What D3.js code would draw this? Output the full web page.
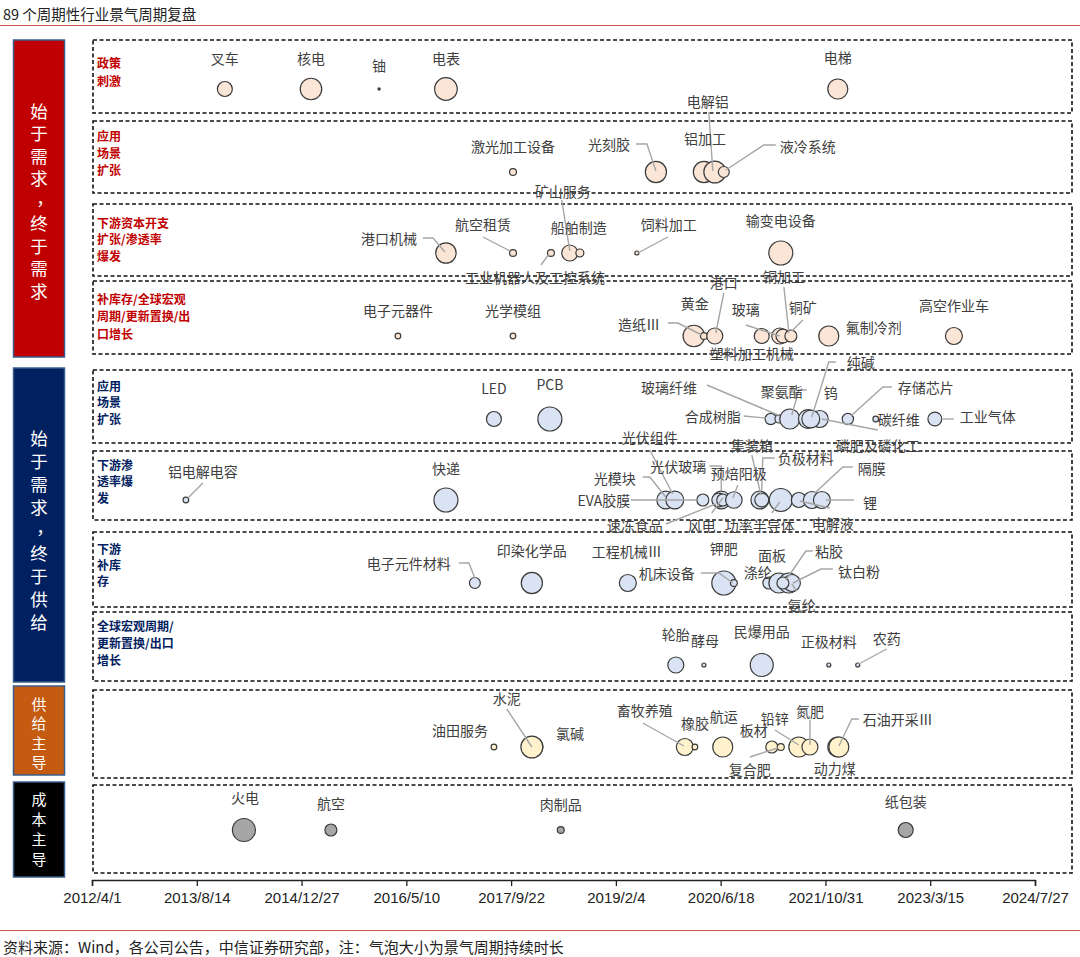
<!DOCTYPE html>
<html>
<head>
<meta charset="utf-8">
<script src="https://cdn.jsdelivr.net/npm/d3@7"></script>
<style>
  body { margin: 0; background: #fff; }
</style>
</head>
<body>
<div id="chart"></div>
<script>
// 每个气泡：[行业, 景气周期起点, 持续时长(月)]
const policyStimulus = [["叉车","2013-12-26",14],["核电","2015-02-10",29],["铀","2016-01-01",0.3],["电表","2016-11-15",32],["电梯","2021-12-29",25]];
const demandScenario = [["激光加工设备","2017-10-01",3],["光刻胶","2019-08-14",28],["铝加工","2020-03-30",28],["电解铝","2020-05-21",30],["液冷系统","2020-07-03",7.5]];
const capexPenetration = [["港口机械","2016-11-15",26],["航空租赁","2017-10-01",3],["工业机器人及工控系统","2018-03-31",3],["矿山服务","2018-06-29",16],["船舶制造","2018-08-16",4],["饲料加工","2019-05-15",1],["输变电设备","2021-04-01",36]];
const restockMacro = [["电子元器件","2016-03-31",2],["光学模组","2017-10-01",2],["黄金","2020-02-11",29],["造纸Ⅲ","2020-03-30",3],["港口","2020-05-21",16],["塑料加工机械","2020-12-31",14],["玻璃","2021-03-27",16],["铜加工","2021-04-11",12],["铜矿","2021-05-19",9],["氟制冷剂","2021-11-16",25],["高空作业车","2023-07-06",18]];
const supplyScenario = [["LED","2017-07-02",14],["PCB","2018-03-26",36],["合成树脂","2021-02-12",8],["玻璃纤维","2021-03-23",4],["聚氨酯","2021-05-14",25],["磷肥及磷化工","2021-10-04",18],["钨","2021-08-08",22],["纯碱","2021-08-22",20],["存储芯片","2022-02-15",8],["碳纤维","2022-06-28",2],["工业气体","2023-04-06",12]];
const penetration = [["铝电解电容","2013-06-23",2],["快递","2016-11-15",36],["光模块","2019-09-30",20],["光伏组件","2019-11-12",20],["EVA胶膜","2020-03-25",9],["光伏玻璃","2020-06-21",20],["速冻食品","2020-06-09",12],["风电","2020-06-28",9],["预焙阳极","2020-08-20",17],["集装箱","2020-12-22",20],["负极材料","2020-12-31",12],["功率半导体","2021-04-01",33],["电解液","2021-06-26",14],["隔膜","2021-08-27",18],["锂","2021-10-14",18]];
const downstreamRestock = [["电子元件材料","2017-04-02",7.5],["印染化学品","2017-12-30",28],["工程机械Ⅲ","2019-04-02",18],["钾肥","2020-07-03",36],["机床设备","2020-08-20",3],["涤纶","2021-02-03",9],["面板","2021-03-23",25],["氨纶","2021-05-09",25],["钛白粉","2021-05-24",18],["粘胶","2021-04-11",9]];
const globalMacro = [["轮胎","2019-11-17",16],["酵母","2020-03-30",1],["民爆用品","2020-12-31",33],["正极材料","2021-11-16",1],["农药","2022-04-03",1]];
const supplyLed = [["油田服务","2017-07-02",2],["氯碱","2018-01-04",25],["水泥","2017-12-30",30],["畜牧养殖","2019-12-30",18],["橡胶","2020-02-16",2],["航运","2020-06-28",25],["板材","2021-02-17",9],["复合肥","2021-04-01",3],["铅锌","2021-06-26",25],["氮肥","2021-08-18",16],["动力煤","2021-12-29",25],["石油开采Ⅲ","2022-01-03",25]];
const costLed = [["火电","2014-03-27",33],["航空","2015-05-16",9],["肉制品","2018-05-17",3],["纸包装","2022-11-18",14]];

const rowSeries = [policyStimulus, demandScenario, capexPenetration, restockMacro, supplyScenario, penetration, downstreamRestock, globalMacro, supplyLed, costLed];
const rowLabels = [
  ["政策","刺激"],
  ["应用","场景","扩张"],
  ["下游资本开支","扩张/渗透率","爆发"],
  ["补库存/全球宏观","周期/更新置换/出","口增长"],
  ["应用","场景","扩张"],
  ["下游渗","透率爆","发"],
  ["下游","补库","存"],
  ["全球宏观周期/","更新置换/出口","增长"],
  [], []
];
const groupNames = ["始于需求，终于需求", "始于需求，终于供给", "供给主导", "成本主导"];
const rowGroup = [0, 0, 0, 0, 1, 1, 1, 1, 2, 3];
const tickStart = "2012-04-01", tickEnd = "2024-07-27", tickStepDays = 500;

const titleText = "89 个周期性行业景气周期复盘";
const sourceText = "资料来源：Wind，各公司公告，中信证券研究部，注：气泡大小为景气周期持续时长";

// ---- layout ----
const W = 1080, H = 957;
const rowBands = [[40,113],[121,193],[204,276],[281,354],[370,443],[451,520],[532,607],[612,681],[690,778],[785,873]];
const rowCY = [89,172,253,336,419,500,583,665,747,830];
const rowLabelY = [[62,18],[135,17],[222,16.5],[298,17.5],[385,16.5],[464,16.5],[548,16],[625,17]];
const groupBoxes = [
  {y0: 40, y1: 357, fill: "#c00000", start: 110, step: 22.5, size: 17.5},
  {y0: 368, y1: 682, fill: "#002060", start: 437, step: 23, size: 17.5},
  {y0: 686, y1: 775, fill: "#c55a11", start: 703, step: 19.5, size: 15},
  {y0: 782, y1: 877, fill: "#000000", start: 798, step: 20, size: 15}
];
const groupFill = ["#fbe5d6", "#dae3f3", "#fff2cc", "#a6a6a6"];
const rowTextColor = ["#c00000", "#002060"];

// 标签偏移 [dx, dy, 引线点]
const labelLayout = {
  "叉车":[0,-31], "核电":[0,-31], "铀":[0,-24], "电表":[0,-31], "电梯":[0,-32],
  "激光加工设备":[0,-26], "光刻胶":[-47,-28,[[-20,-28],[-9,-28],[0,-1]]],
  "铝加工":[1,-34], "电解铝":[-7,-71,[[-6,-60],[-2,-1]]],
  "液冷系统":[84,-26,[[52,-27],[40,-27],[2,-2]]],
  "港口机械":[-57,-15,[[-23,-15],[-13,-15],[-1,-1]]],
  "航空租赁":[-30,-29,[[-30,-16],[-3,-2]]],
  "工业机器人及工控系统":[-16,24,[[-10,12],[-2,1]]],
  "矿山服务":[-7,-62,[[-8,-53],[0,-2]]],
  "船舶制造":[-1,-26],
  "饲料加工":[32,-29,[[31,-16],[1,0]]],
  "输变电设备":[0,-33],
  "电子元器件":[0,-26], "光学模组":[0,-26], "黄金":[1,-33],
  "造纸Ⅲ":[-65,-12,[[-36,-13],[-26,-13],[-2,-1]]],
  "港口":[9,-54,[[9,-43],[1,-3]]],
  "塑料加工机械":[-10,17],
  "玻璃":[-34,-27,[[-34,-11],[0,0]]],
  "铜加工":[1,-60,[[1,-49],[6,-3]]],
  "铜矿":[12,-29,[[12,-16],[1,-5]]],
  "氟制冷剂":[45,-9], "高空作业车":[0,-31],
  "LED":[0,-31], "PCB":[0,-35],
  "合成树脂":[-58,-3,[[-27,-3],[-5,-1]]],
  "玻璃纤维":[-110,-32,[[-72,-34],[-1,-4]]],
  "聚氨酯":[-8,-28,[[17,-29],[9,-29],[2,-4]]],
  "钨":[23,-27],
  "纯碱":[50,-57,[[25,-57],[18,-57],[1,-2]]],
  "磷肥及磷化工":[58,26,[[58,11],[2,0]]],
  "存储芯片":[78,-32,[[44,-32],[35,-32],[3,-3]]],
  "碳纤维":[23,0],
  "工业气体":[53,-3,[[8,0],[19,0]]],
  "铝电解电容":[17,-29,[[17,-17],[2,-2]]],
  "快递":[0,-32],
  "光模块":[-51,-22,[[-23,-23],[-16,-23],[0,-3]]],
  "光伏组件":[-25,-63,[[-25,-50],[-2,-6]]],
  "EVA胶膜":[-99,0,[[-72,0],[-6,0]]],
  "光伏玻璃":[-43,-34,[[-12,-34],[0,-34],[0,-9]]],
  "速冻食品":[-84,25,[[-53,24],[-3,4]]],
  "风电":[-21,25,[[-11,13],[0,-2]]],
  "预焙阳极":[5,-27,[[4,-15],[-1,-2]]],
  "集装箱":[-8,-55,[[-8,-45],[1,-5]]],
  "负极材料":[44,-42,[[13,-42],[1,-42],[0,-10]]],
  "功率半导体":[-21,25,[[-9,13],[-1,2]]],
  "电解液":[34,23,[[31,8],[1,1]]],
  "隔膜":[60,-32,[[41,-33],[31,-33],[3,-7]]],
  "锂":[48,2,[[32,0],[4,0]]],
  "电子元件材料":[-66,-20,[[-16,-20],[-6,-20],[0,-5]]],
  "印染化学品":[0,-33], "工程机械Ⅲ":[-1,-32], "钾肥":[0,-35],
  "机床设备":[-67,-10,[[-33,-10],[-15,-10],[-1,0]]],
  "涤纶":[-11,-11], "面板":[-7,-28],
  "粘胶":[46,-32,[[30,-32],[23,-32],[3,-3]]],
  "钛白粉":[67,-12,[[41,-14],[29,-14],[1,0]]],
  "氨纶":[13,22,[[8,8],[3,1]]],
  "轮胎":[0,-31], "酵母":[1,-25], "民爆用品":[0,-34], "正极材料":[0,-24],
  "农药":[29,-27,[[29,-16],[1,-1]]],
  "油田服务":[-34,-17],
  "水泥":[-25,-49,[[-25,-38],[0,0]]],
  "氯碱":[37,-14],
  "畜牧养殖":[-40,-37,[[-42,-24],[-1,-1]]],
  "橡胶":[0,-24], "航运":[1,-31], "板材":[-18,-17],
  "复合肥":[-31,22,[[-31,10],[-3,1]]],
  "铅锌":[-24,-29,[[-24,-17],[0,-2]]],
  "氮肥":[0,-36,[[0,-27],[0,-2]]],
  "动力煤":[-3,21],
  "石油开采Ⅲ":[59,-28,[[20,-28],[13,-28],[0,-1]]],
  "火电":[1,-33], "航空":[0,-27], "肉制品":[0,-26], "纸包装":[0,-29]
};

const parse = d3.timeParse("%Y-%m-%d");
const x = d3.scaleTime().domain([parse(tickStart), parse(tickEnd)]).range([92, 1035]);
const r = d3.scaleSqrt().domain([0, 36]).range([0, 12]);

const svg = d3.select("#chart").append("svg")
  .attr("width", W).attr("height", H)
  .style("font-family", "'Noto Sans CJK SC', sans-serif");

// title
svg.append("text").attr("x", 3).attr("y", 13).attr("dominant-baseline", "central")
  .attr("font-size", 14.5).attr("fill", "#222").text(titleText);
svg.append("line").attr("x1", 0).attr("x2", W).attr("y1", 25.5).attr("y2", 25.5)
  .attr("stroke", "#d0574f").attr("stroke-width", 1.2);

// left group boxes
groupBoxes.forEach((g, i) => {
  svg.append("rect").attr("x", 13.5).attr("y", g.y0).attr("width", 51).attr("height", g.y1 - g.y0)
    .attr("fill", g.fill).attr("stroke", "#385d8a").attr("stroke-width", 1.5);
  Array.from(groupNames[i]).forEach((ch, k) => {
    svg.append("text")
      .attr("x", ch === "，" ? 45 : 39)
      .attr("y", g.start + k * g.step - (ch === "，" ? 3 : 0))
      .attr("text-anchor", "middle").attr("dominant-baseline", "central")
      .attr("font-size", g.size).attr("fill", "#fff").text(ch);
  });
});

// dashed row boxes + row labels
rowBands.forEach((b, i) => {
  svg.append("rect").attr("x", 93).attr("y", b[0]).attr("width", 979).attr("height", b[1] - b[0])
    .attr("fill", "none").attr("stroke", "#111").attr("stroke-width", 1.6)
    .attr("stroke-dasharray", "4,2.5");
  rowLabels[i].forEach((line, k) => {
    svg.append("text").attr("x", 97).attr("y", rowLabelY[i][0] + k * rowLabelY[i][1])
      .attr("dominant-baseline", "central").attr("font-size", 12).attr("font-weight", "bold")
      .attr("fill", rowTextColor[rowGroup[i]]).text(line);
  });
});

// bubbles
const bubbles = rowSeries.flatMap((series, i) => series.map(d => ({
  name: d[0], date: parse(d[1]), months: d[2], row: i
})));

const gB = svg.append("g");
gB.selectAll("circle").data(bubbles).join("circle")
  .attr("cx", d => x(d.date))
  .attr("cy", d => rowCY[d.row])
  .attr("r", d => Math.max(r(d.months), 1))
  .attr("fill", d => d.months < 1 ? "#333" : groupFill[rowGroup[d.row]])
  .attr("stroke", "#3a3a3a").attr("stroke-width", 1.2);

// leader lines
const line = d3.line();
const gL = svg.append("g").attr("fill", "none").attr("stroke", "#a6a6a6").attr("stroke-width", 1.4);
bubbles.forEach(d => {
  const lay = labelLayout[d.name];
  if (lay && lay[2]) {
    const cx = x(d.date), cy = rowCY[d.row];
    gL.append("path").attr("d", line(lay[2].map(p => [cx + p[0], cy + p[1]])));
  }
});

// labels
svg.append("g").selectAll("text").data(bubbles).join("text")
  .attr("x", d => x(d.date) + (labelLayout[d.name] ? labelLayout[d.name][0] : 0))
  .attr("y", d => rowCY[d.row] + (labelLayout[d.name] ? labelLayout[d.name][1] : -28))
  .attr("text-anchor", "middle").attr("dominant-baseline", "central")
  .attr("font-size", 14).attr("fill", "#404040")
  .text(d => d.name);

// time axis
const ticks = d3.range(10).map(i => d3.timeDay.offset(parse(tickStart), i * tickStepDays));
const axis = svg.append("g").attr("transform", "translate(0,880)")
  .call(d3.axisBottom(x).tickValues(ticks).tickFormat(d3.timeFormat("%Y/%-m/%-d"))
    .tickSizeOuter(0).tickSize(6).tickPadding(6));
axis.select(".domain").attr("stroke", "#222").attr("stroke-width", 1.5);
axis.selectAll(".tick line").attr("stroke", "#222").attr("stroke-width", 1.3);
axis.selectAll(".tick text").attr("font-size", 15).attr("fill", "#222")
  .attr("font-family", "'Liberation Sans', Arial, sans-serif");

// source
svg.append("line").attr("x1", 0).attr("x2", W).attr("y1", 930.5).attr("y2", 930.5)
  .attr("stroke", "#d0574f").attr("stroke-width", 1.2);
svg.append("text").attr("x", 3).attr("y", 946).attr("dominant-baseline", "central")
  .attr("font-size", 15).attr("fill", "#222").text(sourceText);
</script>
</body>
</html>
